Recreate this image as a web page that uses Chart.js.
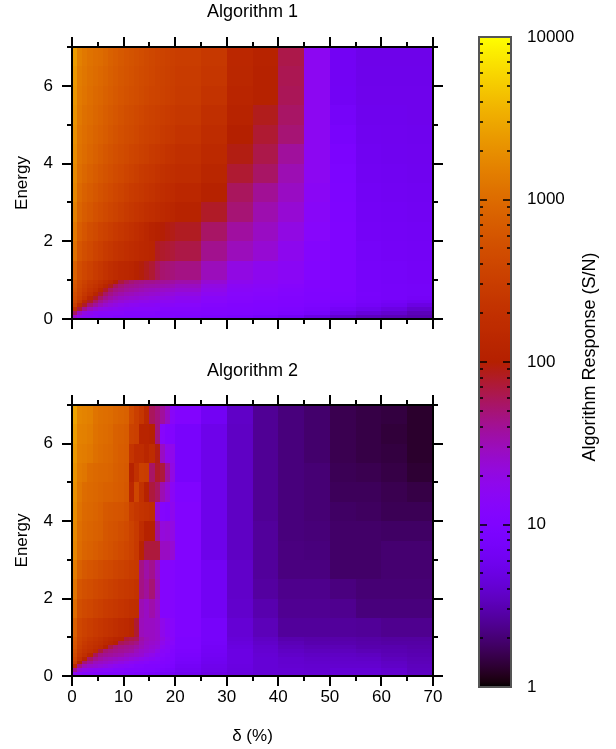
<!DOCTYPE html>
<html>
<head>
<meta charset="utf-8">
<title>Algorithm response</title>
<script src="https://cdn.jsdelivr.net/npm/chart.js@4/dist/chart.umd.js"></script>
<style>
  html, body { margin: 0; padding: 0; background: #fff; }
  canvas { position: absolute; display: block; }
</style>
</head>
<body>
<canvas id="panel1" width="505" height="350" style="left:0;top:0"></canvas>
<canvas id="panel2" width="505" height="399" style="left:0;top:350px"></canvas>
<canvas id="colorbar" width="146" height="749" style="left:470px;top:0"></canvas>
<script>
const deltaEdges = [0,1,2,3,4,5,6,7,8,9,10,11,12,13,14,15,16,17,18,19,20,25,30,35,40,45,50,55,60,65,70];
const energyEdges = [7,6.5,6,5.5,5,4.5,4,3.5,3,2.5,2,1.5,1,0.9,0.8,0.7,0.6,0.5,0.4,0.3,0.2,0.1,0];

const deltaMajorTicks = [0,10,20,30,40,50,60,70];
const deltaMinorTicks = [5,15,25,35,45,55,65];
const energyMajorTicks = [0,2,4,6];
const energyMinorTicks = [1,3,5,7];
const colorbarMajorTicks = [1,10,100,1000,10000];
const colorbarMinorTicks = [2,3,4,5,6,7,8,9,20,30,40,50,60,70,80,90,200,300,400,500,600,700,800,900,2000,3000,4000,5000,6000,7000,8000,9000];

// S/N per cell, one row per energy band from the top down, one value per delta band
const algorithm1 = [
  [2500,1500,1300,1150,1050,1000,900,800,720,650,600,560,520,480,440,410,380,360,340,320,300,260,140,115,65,16,6.5,5.5,5.5,5.5],
  [2300,1400,1250,1100,1000,930,850,760,690,630,580,540,500,460,430,400,370,350,330,310,290,240,135,110,62,16,6.5,5.6,5.6,5.6],
  [2200,1350,1200,1050,950,880,800,720,660,600,550,510,480,440,410,380,360,340,320,300,280,220,125,110,60,16,6.6,5.7,5.7,5.7],
  [2100,1300,1100,1000,900,830,740,670,610,550,500,470,430,400,370,340,320,300,285,270,250,190,115,85,55,16,7.2,5.8,5.8,5.7],
  [2000,1200,1050,950,850,780,700,620,560,510,470,440,410,370,340,320,300,280,260,250,220,170,100,75,50,16,8,6,5.9,5.8],
  [1900,1150,1000,880,800,700,620,560,510,470,430,390,360,330,310,280,260,240,220,210,190,150,90,65,38,16,8.8,6.2,6,5.9],
  [1800,1050,900,800,700,620,560,510,460,420,380,340,310,280,260,240,220,200,190,180,170,130,75,55,32,16,9.2,6.4,6.2,6],
  [1700,950,800,700,620,550,500,450,400,360,320,290,270,250,230,210,190,175,165,155,140,110,58,40,28,15,9.5,6.6,6.4,6.2],
  [1500,850,700,620,540,480,430,390,350,310,280,250,230,210,190,175,160,150,140,130,115,80,50,33,24,14,9.8,6.8,6.6,6.4],
  [1300,720,600,500,440,380,340,300,270,240,215,195,175,155,135,115,105,98,92,88,82,55,37,28,20,13,10,7,6.8,6.6],
  [1100,600,500,430,370,320,280,250,220,200,185,170,155,145,135,125,82,78,75,72,66,42,30,24,17,12,10,7.2,7,6.8],
  [800,480,400,340,290,250,210,180,160,145,135,125,110,95,85,75,60,52,50,48,45,30,20,17,15,11.5,10,7.5,7.2,7],
  [640,420,340,280,240,200,170,140,105,70,58,50,46,44,42,42,40,39,38,37,34,24,17,15,13.5,11,10,7.6,7.3,7.1],
  [600,400,310,250,210,170,130,85,60,50,44,42,40,38,36,35,34,33,32,31,28,20,15,14,12.5,11,10,7.7,7.4,7.2],
  [560,370,290,220,180,125,80,55,46,42,38,36,34,32,30,29,28,27,26,26,24,18,14,13,12,10.5,10,7.8,7.5,7.3],
  [500,340,250,190,130,80,55,44,38,34,31,30,28,27,26,25,24,23,22,22,20,16,13,12.5,11.5,10,9.8,7.9,7.5,7.2],
  [460,300,210,130,80,55,42,36,31,28,26,25,24,23,22,21,20,20,19,19,17,14,12.5,12,11,10,9.5,7.8,7.4,7],
  [400,240,140,80,55,40,33,28,25,23,21,20,19,18,18,17,17,16,16,16,15,13,12,11,10.5,9.8,9,7.5,7,6.2],
  [320,150,80,50,38,30,25,22,20,18,17,16,16,15,15,15,14,14,14,14,13,12,11,10.5,10,9.3,8.2,7,6.2,5],
  [180,70,42,30,24,20,18,17,16,15,14,14,13,13,13,13,13,12,12,12,12,11,10.5,10,9.5,8.5,7,5.8,5,4],
  [55,28,20,17,15,14,14,13,13,13,12,12,12,12,12,12,11,11,11,11,11,10.5,10,9.5,8.8,7.5,5.5,4.5,4,3.3],
  [25,18,15,14,13,12,12,12,11,11,11,11,11,11,11,10.5,10.5,10,10,10,9.5,9,8.5,7.5,6.5,5,4,3.4,3.2,3]
];

const algorithm2 = [
  [2800,1700,1600,1500,1200,1100,1050,1000,900,850,800,450,320,240,150,58,48,38,28,14,11,6.5,3.7,2.5,2.1,1.9,1.6,1.5,1.45,1.3],
  [2500,1550,1500,1400,1150,1050,1000,950,800,750,700,350,320,120,120,110,48,13,11,11,8,5.5,3.6,2.5,2.1,1.9,1.6,1.5,1.4,1.3],
  [2300,1450,1400,1300,1100,1000,950,900,800,720,680,230,170,170,130,170,90,28,18,18,8,5.5,3.6,2.5,2.1,1.9,1.6,1.5,1.45,1.3],
  [2100,1350,1250,1000,950,900,880,850,760,700,650,110,200,320,300,55,80,70,38,20,8,5.5,3.6,2.5,2.1,2,1.65,1.6,1.5,1.35],
  [2000,1250,1000,950,900,850,800,780,720,680,620,140,400,200,110,70,58,32,24,15,10,5.5,3.6,2.5,2.1,2,1.7,1.7,1.6,1.5],
  [1900,1150,950,900,850,780,650,620,600,580,520,300,250,220,200,180,24,12,11,17,11,5.5,3.6,2.5,2.1,2,1.8,1.75,1.65,1.65],
  [1800,1050,900,850,800,750,620,580,550,500,450,350,280,170,110,110,40,22,23,20,11,5.5,3.6,2.6,2.1,2.05,1.85,1.85,1.8,1.8],
  [1700,1000,850,800,720,650,600,550,500,450,400,340,270,120,70,70,70,28,28,24,11,5.5,3.6,2.6,2.15,2.1,1.85,1.85,1.95,1.95],
  [1400,800,650,600,550,500,450,420,380,350,320,290,270,45,35,42,28,12,12,12,10,6.5,3.8,2.6,2.15,2.15,1.85,1.85,1.95,1.95],
  [1200,600,520,480,430,400,360,330,300,280,260,240,220,45,38,50,30,12,12,12,10,6.5,3.8,2.7,2.35,2.35,2.15,2,2,2],
  [1000,500,430,400,350,320,290,270,250,230,210,190,180,32,28,34,27,12,12,12,10,6.5,3.9,3,2.45,2.45,2.4,2.1,2.1,2.1],
  [750,400,340,300,270,240,220,200,180,160,150,130,75,30,28,28,26,18,15,13,10,7.5,4.2,3.3,2.6,2.6,2.6,2.55,2.4,2.4],
  [640,360,300,260,230,200,170,150,130,120,70,65,60,35,30,28,26,20,16,14,9.5,7.5,4.4,3.6,3,2.9,2.9,2.8,2.7,2.7],
  [600,340,270,230,200,180,150,130,110,60,55,50,45,32,28,26,24,18,15,13,9.5,7.2,4.6,3.8,3.2,3,3,2.9,2.8,2.8],
  [560,310,240,210,180,155,110,65,50,45,42,40,36,30,26,24,22,16,14,12,9.5,7,4.8,4,3.4,3.2,3.2,3,3,2.9],
  [500,280,220,190,150,70,50,45,42,40,38,36,30,26,24,22,18,14,13,11,9,6.8,5,4.1,3.6,3.4,3.4,3.2,3.1,3],
  [440,240,190,130,60,44,40,38,36,34,30,28,26,24,20,18,15,13,12,10.5,8.5,6.5,5,4.2,3.8,3.6,3.6,3.5,3.2,3.1],
  [380,200,120,55,42,36,32,30,28,26,24,22,20,18,16,15,13,12,11,10,8,6.2,5,4.3,4,3.8,3.8,3.7,3.4,3.2],
  [300,110,50,38,30,28,26,24,22,20,18,16,15,14,13,12,12,11,10.5,9.5,7.5,6,5,4.3,4,3.9,3.9,3.9,3.6,3.3],
  [150,45,30,26,24,22,20,18,16,15,14,13,12,12,11,11,10.5,10,9.5,9,7,5.7,4.9,4.3,4.1,4,4,4,3.7,3.4],
  [40,22,18,16,15,14,13,13,12,12,11,11,11,10.5,10,10,9.5,9,8.5,8,6.5,5.5,4.8,4.3,4.2,4.1,4.3,4.3,4,3.5],
  [15,13,12,12,11,11,10.5,10,10,10,9.5,9.5,9,9,8.5,8.5,8,7.5,7.5,7,6,5.2,4.7,4.3,4.2,4.2,4.4,4.4,4.1,3.6]
];

const FONT = "'Liberation Sans', Arial, sans-serif";
const FONT_SIZE = 17;
const TITLE_SIZE = 18;

// gnuplot's default pm3d palette (rgbformulae 7,5,15)
function paletteAt(f) {
  const r = Math.sqrt(f);
  const g = f * f * f;
  const b = Math.max(0, Math.sin(2 * Math.PI * f));
  return `rgb(${Math.round(r * 255)},${Math.round(g * 255)},${Math.round(b * 255)})`;
}

function colorFor(v) {
  return paletteAt(Math.log10(v) / 4);
}

class HeatCell extends Chart.Element {
  draw(ctx) {
    ctx.fillStyle = this.options.backgroundColor;
    ctx.fillRect(this.x, this.y, this.width, this.height);
  }
}
HeatCell.id = "heatCell";
HeatCell.defaults = { backgroundColor: "#000" };

class HeatmapController extends Chart.DatasetController {
  update(mode) {
    const meta = this._cachedMeta;
    this.updateElements(meta.data, 0, meta.data.length, mode);
  }
  updateElements(cells, start, count, mode) {
    const { xScale, yScale } = this._cachedMeta;
    const data = this.getDataset().data;
    for (let i = start; i < start + count; i++) {
      const d = data[i];
      const left = Math.round(xScale.getPixelForValue(d.x0));
      const right = Math.round(xScale.getPixelForValue(d.x1));
      const top = Math.round(yScale.getPixelForValue(d.y0));
      const bottom = Math.round(yScale.getPixelForValue(d.y1));
      this.updateElement(cells[i], i, {
        x: left, y: top, width: right - left, height: bottom - top,
        options: { backgroundColor: colorFor(d.v) }
      }, mode);
    }
  }
  draw() {
    const ctx = this.chart.ctx;
    this._cachedMeta.data.forEach(cell => cell.draw(ctx));
  }
}
HeatmapController.id = "heatmap";
HeatmapController.defaults = { dataElementType: "heatCell", datasetElementType: false, animation: false };

Chart.register(HeatCell, HeatmapController);

function buildCells(rows) {
  const cells = [];
  rows.forEach((row, r) => {
    row.forEach((v, c) => {
      const x0 = deltaEdges[c], x1 = deltaEdges[c + 1];
      const y0 = energyEdges[r], y1 = energyEdges[r + 1];
      cells.push({ x: (x0 + x1) / 2, y: (y0 + y1) / 2, x0, x1, y0, y1, v });
    });
  });
  return cells;
}

// frame and outward tick marks, gnuplot style
const frameTicks = {
  id: "frameTicks",
  afterDraw(chart) {
    const { ctx, chartArea: a, scales } = chart;
    ctx.save();
    ctx.strokeStyle = "#000";
    ctx.lineWidth = 2;
    const mark = (x1, y1, x2, y2) => {
      ctx.beginPath();
      ctx.moveTo(x1, y1);
      ctx.lineTo(x2, y2);
      ctx.stroke();
    };
    const xTicks = (list, len) => list.forEach(v => {
      const x = Math.round(scales.x.getPixelForValue(v));
      mark(x, a.top, x, a.top - len);
      mark(x, a.bottom, x, a.bottom + len);
    });
    const yTicks = (list, len) => list.forEach(v => {
      const y = Math.round(scales.y.getPixelForValue(v));
      mark(a.left, y, a.left - len, y);
      mark(a.right, y, a.right + len, y);
    });
    xTicks(deltaMajorTicks, 10);
    xTicks(deltaMinorTicks, 5);
    yTicks(energyMajorTicks, 10);
    yTicks(energyMinorTicks, 5);
    ctx.strokeRect(a.left, a.top, a.right - a.left, a.bottom - a.top);
    ctx.restore();
  }
};

function panelChart(id, rows, title, titlePadding, areaBottomGap, showX) {
  return new Chart(document.getElementById(id), {
    type: "heatmap",
    data: { datasets: [{ data: buildCells(rows), parsing: false }] },
    options: {
      responsive: false,
      animation: false,
      plugins: {
        legend: { display: false },
        tooltip: { enabled: false },
        title: {
          display: true,
          text: title,
          color: "#000",
          font: { family: FONT, size: TITLE_SIZE, weight: "normal", lineHeight: 1.2 },
          padding: titlePadding
        }
      },
      scales: {
        x: {
          type: "linear",
          min: 0,
          max: 70,
          grid: { display: false, drawTicks: false },
          border: { display: false },
          afterBuildTicks: s => { s.ticks = deltaMajorTicks.map(value => ({ value })); },
          afterFit: s => { s.height = areaBottomGap; },
          ticks: {
            display: showX,
            autoSkip: false,
            maxRotation: 0,
            padding: 11,
            color: "#000",
            font: { family: FONT, size: FONT_SIZE },
            callback: v => String(v)
          },
          title: {
            display: showX,
            text: "δ (%)",
            color: "#000",
            font: { family: FONT, size: FONT_SIZE },
            padding: { top: 0, bottom: 2 }
          }
        },
        y: {
          type: "linear",
          min: 0,
          max: 7,
          grid: { display: false, drawTicks: false },
          border: { display: false },
          afterBuildTicks: s => { s.ticks = energyMajorTicks.map(value => ({ value })); },
          afterFit: s => { s.width = 72; },
          ticks: {
            autoSkip: false,
            padding: 19,
            color: "#000",
            font: { family: FONT, size: FONT_SIZE },
            callback: v => String(v)
          },
          title: {
            display: true,
            text: "Energy",
            color: "#000",
            font: { family: FONT, size: FONT_SIZE },
            padding: { top: 12, bottom: 0 }
          }
        },
        // empty right axis, balances the left one so the title centres over the plot
        ySpacer: {
          type: "linear",
          position: "right",
          min: 0,
          max: 7,
          grid: { display: false, drawTicks: false },
          border: { display: false },
          ticks: { display: false },
          afterFit: s => { s.width = 72; }
        }
      }
    },
    plugins: [frameTicks]
  });
}

panelChart("panel1", algorithm1, "Algorithm 1", { top: 1.2, bottom: 24.2 }, 31, false);
panelChart("panel2", algorithm2, "Algorithm 2", { top: 10.2, bottom: 23.2 }, 73, true);

const colorbarPaint = {
  id: "colorbarPaint",
  beforeDatasetsDraw(chart) {
    const { ctx, chartArea: a } = chart;
    const grad = ctx.createLinearGradient(0, a.bottom, 0, a.top);
    for (let i = 0; i <= 128; i++) grad.addColorStop(i / 128, paletteAt(i / 128));
    ctx.fillStyle = grad;
    ctx.fillRect(a.left, a.top, a.right - a.left, a.bottom - a.top);
  },
  afterDraw(chart) {
    const { ctx, chartArea: a, scales } = chart;
    ctx.save();
    ctx.strokeStyle = "#000";
    ctx.lineWidth = 1.5;
    const marks = (list, len) => list.forEach(v => {
      const y = Math.round(scales.y.getPixelForValue(v));
      ctx.beginPath();
      ctx.moveTo(a.left, y);
      ctx.lineTo(a.left + len, y);
      ctx.moveTo(a.right, y);
      ctx.lineTo(a.right - len, y);
      ctx.stroke();
    });
    marks(colorbarMajorTicks.slice(1, 4), 8);
    marks(colorbarMinorTicks, 4);
    ctx.strokeStyle = "#555";
    ctx.lineWidth = 2;
    ctx.strokeRect(a.left, a.top, a.right - a.left, a.bottom - a.top);
    // scale titles on the right only rotate clockwise in Chart.js
    ctx.translate(120, 357);
    ctx.rotate(-Math.PI / 2);
    ctx.fillStyle = "#000";
    ctx.font = `${TITLE_SIZE}px ${FONT}`;
    ctx.textAlign = "center";
    ctx.textBaseline = "middle";
    ctx.fillText("Algorithm Response (S/N)", 0, 0);
    ctx.restore();
  }
};

new Chart(document.getElementById("colorbar"), {
  type: "scatter",
  data: { datasets: [{ data: [] }] },
  options: {
    responsive: false,
    animation: false,
    layout: { padding: { left: 9, right: 0, top: 37, bottom: 62 } },
    plugins: { legend: { display: false }, tooltip: { enabled: false } },
    scales: {
      x: { display: false },
      y: {
        type: "logarithmic",
        position: "right",
        min: 1,
        max: 10000,
        grid: { display: false, drawTicks: false },
        border: { display: false },
        afterBuildTicks: s => { s.ticks = colorbarMajorTicks.map(value => ({ value })); },
        afterFit: s => { s.width = 105; },
        ticks: {
          autoSkip: false,
          padding: 16,
          color: "#000",
          font: { family: FONT, size: FONT_SIZE },
          callback: v => String(v)
        }
      }
    }
  },
  plugins: [colorbarPaint]
});
</script>
</body>
</html>
